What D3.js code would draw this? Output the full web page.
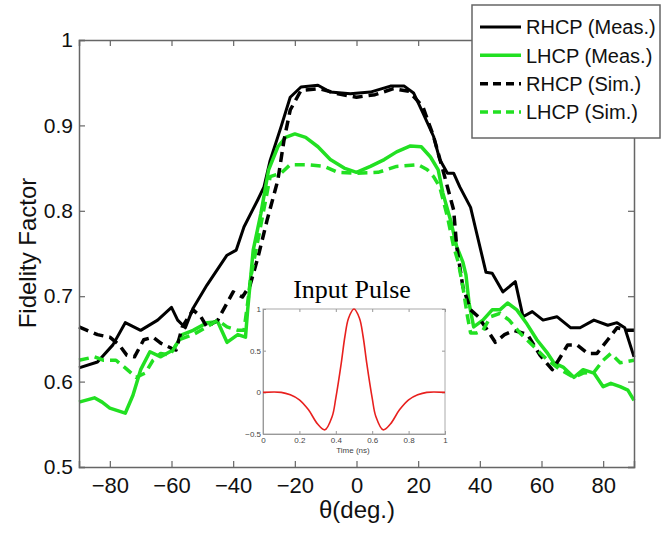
<!DOCTYPE html>
<html>
<head>
<meta charset="utf-8">
<script src="https://cdn.jsdelivr.net/npm/d3@7"></script>
<style>
  body { margin: 0; background: #fff; }
  svg { display: block; font-family: "Liberation Sans", Arial, sans-serif; }
</style>
</head>
<body>
<div id="chart"></div>
<script>
// values: [theta (deg), fidelity]
var rhcpMeas = [[-90,0.616],[-84,0.623],[-79,0.643],[-75,0.669],[-70,0.660],[-64.5,0.672],[-60,0.687],[-58,0.672],[-55.5,0.663],[-53,0.686],[-48.5,0.713],[-42,0.748],[-39,0.754],[-36.5,0.781],[-32,0.813],[-30,0.828],[-28,0.859],[-24.5,0.898],[-21.5,0.933],[-18,0.945],[-12.5,0.947],[-8.5,0.939],[-2,0.937],[4.5,0.939],[11,0.946],[15.5,0.946],[18.5,0.938],[21.5,0.915],[25,0.887],[27,0.860],[29.5,0.844],[31.5,0.844],[33.5,0.828],[37,0.804],[38.5,0.781],[42,0.728],[44,0.727],[47.5,0.705],[51.5,0.717],[54,0.676],[57,0.682],[60.5,0.672],[65,0.676],[69.5,0.663],[72.5,0.663],[77,0.672],[81.5,0.666],[84.5,0.669],[87,0.663],[90,0.629]];
var lhcpMeas = [[-90,0.576],[-85,0.581],[-82.5,0.576],[-80,0.569],[-75,0.563],[-72.5,0.584],[-70,0.614],[-67,0.635],[-63.5,0.629],[-59.5,0.637],[-56.5,0.655],[-53,0.660],[-48.5,0.669],[-45,0.670],[-42,0.646],[-38.5,0.655],[-36,0.652],[-35.3,0.684],[-33.5,0.754],[-31,0.797],[-28.5,0.848],[-25.5,0.875],[-23,0.886],[-20,0.890],[-16.5,0.886],[-12.5,0.875],[-8.5,0.860],[-4,0.850],[0,0.845],[4.5,0.852],[9,0.860],[13,0.869],[17.5,0.876],[21,0.875],[24,0.863],[26.5,0.848],[28,0.821],[30.5,0.789],[32.5,0.758],[34.5,0.740],[35.5,0.725],[36.5,0.692],[38,0.664],[41,0.672],[44,0.684],[46.5,0.684],[49,0.692],[52,0.684],[55,0.669],[58.5,0.649],[62,0.633],[64,0.622],[67,0.617],[70.5,0.605],[73.5,0.614],[77,0.610],[80,0.594],[82.5,0.598],[85.5,0.594],[88,0.590],[90,0.578]];
var rhcpSim = [[-90,0.664],[-84,0.655],[-80,0.652],[-77,0.643],[-74.5,0.631],[-72,0.629],[-69,0.649],[-66,0.652],[-63.5,0.645],[-60,0.639],[-58.5,0.637],[-56.5,0.664],[-53,0.684],[-50.5,0.676],[-48.5,0.664],[-45,0.672],[-40,0.705],[-37,0.699],[-34.5,0.713],[-32,0.745],[-29,0.789],[-25.5,0.836],[-23.5,0.883],[-21.5,0.918],[-18,0.941],[-12,0.943],[-6,0.937],[0,0.933],[6,0.936],[12,0.943],[17,0.940],[21.5,0.922],[25,0.887],[28,0.848],[31.5,0.801],[32.5,0.758],[34.5,0.711],[37,0.684],[39.5,0.676],[42.5,0.660],[45,0.646],[48,0.655],[51,0.660],[55.5,0.655],[59.5,0.631],[63.5,0.614],[65.5,0.625],[68.5,0.643],[71.5,0.643],[75,0.633],[78,0.633],[81.5,0.649],[84.5,0.663],[88,0.660],[90,0.660]];
var lhcpSim = [[-90,0.625],[-85,0.629],[-82,0.625],[-78,0.625],[-75,0.616],[-71.5,0.605],[-68.5,0.610],[-66,0.625],[-63.5,0.633],[-60.5,0.631],[-57.5,0.649],[-53,0.655],[-48.5,0.664],[-45,0.672],[-42,0.664],[-38.5,0.660],[-36.5,0.660],[-35.3,0.692],[-34.3,0.722],[-30.5,0.793],[-28,0.840],[-24.5,0.844],[-21.5,0.854],[-16,0.854],[-10.5,0.852],[-6,0.845],[0,0.844],[7,0.845],[13,0.852],[20,0.854],[23,0.848],[25,0.840],[27,0.828],[29.5,0.793],[31.5,0.758],[33,0.740],[34.5,0.711],[36,0.676],[37,0.657],[39,0.657],[41,0.660],[43.5,0.676],[46.5,0.680],[49.5,0.672],[53,0.657],[57.5,0.641],[62,0.625],[66,0.614],[70.5,0.605],[73.5,0.610],[77,0.611],[80,0.625],[82.5,0.633],[85.5,0.622],[90,0.625]];

var seriesNames = ["RHCP (Meas.)", "LHCP (Meas.)", "RHCP (Sim.)", "LHCP (Sim.)"];
var xTicks = [-80, -60, -40, -20, 0, 20, 40, 60, 80];
var yTicks = [0.5, 0.6, 0.7, 0.8, 0.9, 1];

// inset: input pulse, time (ns) vs amplitude
var pulseTime = [0,0.1,0.15,0.2,0.25,0.3,0.34,0.38,0.4,0.43,0.45,0.47,0.5,0.53,0.55,0.57,0.6,0.62,0.66,0.7,0.75,0.8,0.85,0.9,1];
var pulseAmp  = [0,0,-0.03,-0.09,-0.21,-0.38,-0.45,-0.29,-0.07,0.35,0.67,0.89,1,0.89,0.67,0.35,-0.07,-0.29,-0.45,-0.38,-0.21,-0.09,-0.03,0,0];
var pulseXTicks = [0, 0.2, 0.4, 0.6, 0.8, 1];
var pulseYTicks = [-0.5, 0, 0.5, 1];

var width = 664, height = 533;
var green = "#22e022";
var frameColor = "#666";

var svg = d3.select("#chart").append("svg")
    .attr("width", width)
    .attr("height", height);

var x = d3.scaleLinear().domain([-90, 90]).range([79, 634]);
var y = d3.scaleLinear().domain([0.5, 1]).range([467, 40]);

var line = d3.line()
    .x(function(d) { return x(d[0]); })
    .y(function(d) { return y(d[1]); });

// curves
var series = [
    {data: rhcpMeas, color: "#000", dash: null, w: 3},
    {data: lhcpMeas, color: green, dash: null, w: 3.5},
    {data: rhcpSim, color: "#000", dash: "10,6", w: 3.5},
    {data: lhcpSim, color: green, dash: "10,6", w: 3.5}
];
var plot = svg.append("g");
series.forEach(function(s) {
    plot.append("path")
        .datum(s.data)
        .attr("d", line)
        .attr("fill", "none")
        .attr("stroke", s.color)
        .attr("stroke-width", s.w)
        .attr("stroke-linejoin", "round")
        .attr("stroke-dasharray", s.dash);
});

// axes, MATLAB style: inward ticks on all four sides
var axisFont = 21;
var gx = svg.append("g").attr("transform", "translate(0," + y(0.5) + ")")
    .call(d3.axisBottom(x).tickValues(xTicks).tickSize(-6).tickPadding(10));
var gy = svg.append("g").attr("transform", "translate(" + x(-90) + ",0)")
    .call(d3.axisLeft(y).tickValues(yTicks).tickSize(-6).tickPadding(6)
        .tickFormat(function(d) { return d === 1 ? "1" : d3.format(".1f")(d); }));
var gt = svg.append("g").attr("transform", "translate(0," + y(1) + ")")
    .call(d3.axisTop(x).tickValues(xTicks).tickSize(-6).tickFormat(""));
var gr = svg.append("g").attr("transform", "translate(" + x(90) + ",0)")
    .call(d3.axisRight(y).tickValues(yTicks).tickSize(-6).tickFormat(""));
[gx, gy, gt, gr].forEach(function(g) {
    g.select(".domain").attr("stroke", frameColor).attr("stroke-width", 1.5);
    g.selectAll(".tick line").attr("stroke", frameColor).attr("stroke-width", 1.2);
    g.selectAll(".tick text").attr("fill", "#111")
        .style("font-size", axisFont + "px");
});
gx.selectAll(".tick text").style("font-size", "22px");

svg.append("text")
    .attr("transform", "translate(36,253) rotate(-90)")
    .attr("text-anchor", "middle")
    .style("font-size", "24px")
    .attr("fill", "#111")
    .text("Fidelity Factor");

svg.append("text")
    .attr("x", 357)
    .attr("y", 518)
    .attr("text-anchor", "middle")
    .style("font-size", "24px")
    .attr("fill", "#111")
    .text("\u03b8(deg.)");

// legend
var legend = svg.append("g");
legend.append("rect")
    .attr("x", 472).attr("y", 5)
    .attr("width", 188).attr("height", 133)
    .attr("fill", "#fff")
    .attr("stroke", frameColor)
    .attr("stroke-width", 1.5);
var rowY = d3.scalePoint().domain(seriesNames).range([27, 112]);
seriesNames.forEach(function(name, i) {
    var s = series[i];
    legend.append("line")
        .attr("x1", 480).attr("x2", 521)
        .attr("y1", rowY(name)).attr("y2", rowY(name))
        .attr("stroke", s.color)
        .attr("stroke-width", s.w)
        .attr("stroke-dasharray", s.dash ? "8,5" : null);
    legend.append("text")
        .attr("x", 526)
        .attr("y", rowY(name))
        .attr("dy", "0.36em")
        .style("font-size", "20px")
        .attr("fill", "#111")
        .text(name);
});

// inset with the input pulse
var px = d3.scaleLinear().domain([0, 1]).range([263, 445]);
var py = d3.scaleLinear().domain([-0.5, 1]).range([434, 309]);
var inset = svg.append("g");
inset.append("rect")
    .attr("x", px(0)).attr("y", py(1))
    .attr("width", px(1) - px(0)).attr("height", py(-0.5) - py(1))
    .attr("fill", "#fff")
    .attr("stroke", "#aaa")
    .attr("stroke-width", 1);
var ix = inset.append("g").attr("transform", "translate(0," + py(-0.5) + ")")
    .call(d3.axisBottom(px).tickValues(pulseXTicks).tickSize(-3).tickPadding(3)
        .tickFormat(function(d) { return d === 0 || d === 1 ? d : d3.format(".1f")(d); }));
var iy = inset.append("g").attr("transform", "translate(" + px(0) + ",0)")
    .call(d3.axisLeft(py).tickValues(pulseYTicks).tickSize(-3).tickPadding(2)
        .tickFormat(function(d) { return Number.isInteger(d) ? d : d3.format(".1f")(d); }));
inset.append("g").attr("transform", "translate(0," + py(1) + ")")
    .call(d3.axisTop(px).tickValues(pulseXTicks).tickSize(-3).tickFormat(""))
    .call(function(g) { g.select(".domain").remove(); });
inset.append("g").attr("transform", "translate(" + px(1) + ",0)")
    .call(d3.axisRight(py).tickValues(pulseYTicks).tickSize(-3).tickFormat(""))
    .call(function(g) { g.select(".domain").remove(); });
inset.selectAll(".domain").attr("stroke", "#999");
inset.selectAll(".tick line").attr("stroke", "#999");
inset.selectAll(".tick text").attr("fill", "#444").style("font-size", "8px");

inset.append("path")
    .datum(d3.zip(pulseTime, pulseAmp))
    .attr("d", d3.line()
        .x(function(d) { return px(d[0]); })
        .y(function(d) { return py(d[1]); })
        .curve(d3.curveCatmullRom))
    .attr("fill", "none")
    .attr("stroke", "#e8201e")
    .attr("stroke-width", 1.6);

inset.append("text")
    .attr("x", 353).attr("y", 453)
    .attr("text-anchor", "middle")
    .style("font-size", "8px")
    .attr("fill", "#444")
    .text("Time (ns)");

inset.append("text")
    .attr("x", 352).attr("y", 298)
    .attr("text-anchor", "middle")
    .style("font-family", "'Liberation Serif', 'Times New Roman', serif")
    .style("font-size", "26px")
    .attr("fill", "#000")
    .text("Input Pulse");
</script>
</body>
</html>
